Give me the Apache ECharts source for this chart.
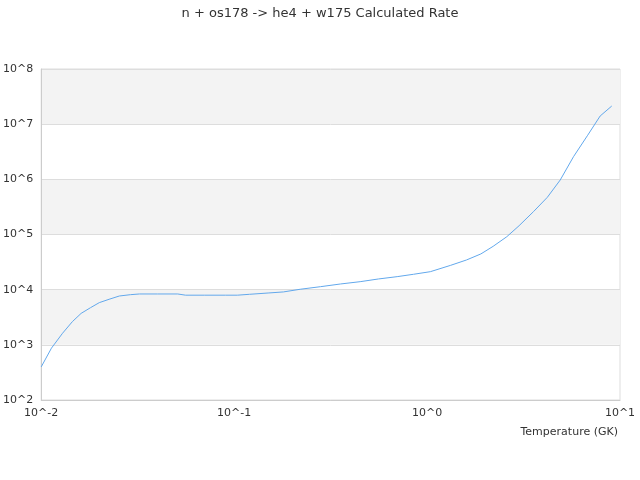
<!DOCTYPE html>
<html>
<head>
<meta charset="utf-8">
<script src="https://cdn.jsdelivr.net/npm/echarts@6/dist/echarts.min.js"></script>
<style>
    html, body { margin: 0; padding: 0; background: #fff; }
    #chart { width: 640px; height: 480px; }
</style>
</head>
<body>
<div id="chart"></div>
<script>
// temperatures (GK) and calculated rates
var temps = [0.01, 0.0113, 0.0129, 0.0145, 0.0161, 0.018, 0.02, 0.0225, 0.0254, 0.029,
    0.0323, 0.04, 0.051, 0.056, 0.07, 0.09, 0.104, 0.12, 0.15, 0.18,
    0.22, 0.28, 0.356, 0.45, 0.56, 0.70, 0.85, 1.04, 1.32, 1.6,
    1.9, 2.2, 2.59, 3.0, 3.56, 4.2, 4.9, 5.74, 6.8, 7.89, 9.06];
var rates = [398, 871, 1622, 2630, 3715, 4710, 5821, 6700, 7674, 8110,
    8356, 8356, 8356, 7943, 7943, 7943, 7943, 8240, 8700, 9100,
    10170, 11320, 12680, 13960, 15630, 17220, 19000, 21180, 27500, 34500,
    44400, 61000, 91200, 144500, 259400, 472000, 973000, 2570000, 6300000, 14060000, 21300000];

var titleText = 'n + os178 -> he4 + w175 Calculated Rate';
var xName = 'Temperature (GK)';

var points = [];
for (var i = 0; i < temps.length; i++) {
    points.push([temps[i], rates[i]]);
}

function powLabel(v) {
    return '10^' + Math.round(Math.log(v) / Math.LN10);
}

var myChart = echarts.init(document.getElementById('chart'));
var option = {
    animation: false,
    textStyle: { fontFamily: 'DejaVu Sans' },
    title: {
        text: titleText,
        left: 'center',
        top: 2,
        textStyle: { fontSize: 13, fontWeight: 'normal', color: '#333' }
    },
    grid: {
        left: 40,
        right: 20,
        top: 69,
        bottom: 80,
        show: true,
        borderColor: '#ddd',
        borderWidth: 1,
        backgroundColor: 'transparent'
    },
    xAxis: {
        type: 'log',
        logBase: 10,
        min: 0.01,
        max: 10,
        name: xName,
        nameLocation: 'end',
        nameGap: 0,
        nameTextStyle: {
            fontSize: 11,
            color: '#333',
            align: 'right',
            verticalAlign: 'top',
            padding: [27, 2, 0, 0]
        },
        axisLine: { lineStyle: { color: '#ccc' } },
        axisTick: { show: false },
        splitLine: { show: false },
        axisLabel: { fontSize: 11, color: '#333', formatter: powLabel }
    },
    yAxis: {
        type: 'log',
        logBase: 10,
        min: 100,
        max: 100000000,
        axisLine: { show: true, lineStyle: { color: '#ccc' } },
        axisTick: { show: false },
        splitLine: { show: true, lineStyle: { color: '#ddd' } },
        splitArea: { show: true, areaStyle: { color: ['rgba(255,255,255,0)', '#f3f3f3'] } },
        axisLabel: { fontSize: 11, color: '#333', formatter: powLabel }
    },
    series: [{
        type: 'line',
        data: points,
        showSymbol: false,
        smooth: false,
        lineStyle: { width: 1, color: '#62a8ec' }
    }]
};
myChart.setOption(option);
</script>
</body>
</html>
